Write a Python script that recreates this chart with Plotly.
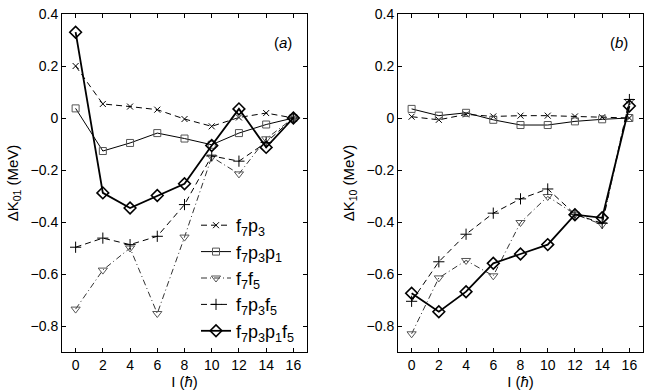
import plotly.graph_objects as go

I = [0, 2, 4, 6, 8, 10, 12, 14, 16]

# Panel (a): Delta K_01
a_f7p3 = [0.20, 0.054, 0.044, 0.032, -0.004, -0.032, 0.002, 0.019, 0.0]
a_f7p3p1 = [0.037, -0.127, -0.096, -0.058, -0.079, -0.103, -0.058, -0.025, 0.0]
a_f7f5 = [-0.735, -0.585, -0.50, -0.752, -0.458, -0.15, -0.215, -0.08, 0.0]
a_f7p3f5 = [-0.497, -0.462, -0.487, -0.455, -0.333, -0.146, -0.166, -0.094, 0.0]
a_f7p3p1f5 = [0.33, -0.288, -0.346, -0.298, -0.253, -0.106, 0.035, -0.113, 0.0]

# Panel (b): Delta K_10
b_f7p3 = [0.005, -0.007, 0.014, 0.006, 0.009, 0.009, 0.006, 0.003, 0.0]
b_f7p3p1 = [0.035, 0.009, 0.02, -0.007, -0.027, -0.027, -0.013, -0.005, 0.0]
b_f7f5 = [-0.83, -0.615, -0.548, -0.607, -0.402, -0.302, -0.37, -0.41, 0.064]
b_f7p3f5 = [-0.705, -0.553, -0.447, -0.366, -0.311, -0.273, -0.37, -0.405, 0.071]
b_f7p3p1f5 = [-0.674, -0.745, -0.668, -0.559, -0.523, -0.487, -0.372, -0.384, 0.046]

names = ["f<sub>7</sub>p<sub>3</sub>",
         "f<sub>7</sub>p<sub>3</sub>p<sub>1</sub>",
         "f<sub>7</sub>f<sub>5</sub>",
         "f<sub>7</sub>p<sub>3</sub>f<sub>5</sub>",
         "f<sub>7</sub>p<sub>3</sub>p<sub>1</sub>f<sub>5</sub>"]

styles = [
    dict(line=dict(color="black", width=1, dash="6px,4px"),
         marker=dict(symbol="x-thin-open", size=6, line=dict(color="#333", width=1))),
    dict(line=dict(color="black", width=1, dash="solid"),
         marker=dict(symbol="square-open", size=7, color="#555", line=dict(color="#555", width=1))),
    dict(line=dict(color="#333", width=1, dash="6px,3px,1px,3px"),
         marker=dict(symbol="triangle-down-open", size=8, color="#555", line=dict(color="#555", width=1))),
    dict(line=dict(color="black", width=1, dash="6px,4px"),
         marker=dict(symbol="cross-thin-open", size=8, line=dict(color="#222", width=1))),
    dict(line=dict(color="black", width=1.8, dash="solid"),
         marker=dict(symbol="diamond-open", size=9, color="black", line=dict(color="black", width=1.6))),
]

fig = go.Figure()
for k, ys in enumerate([a_f7p3, a_f7p3p1, a_f7f5, a_f7p3f5, a_f7p3p1f5]):
    fig.add_trace(go.Scatter(x=I, y=ys, mode="lines+markers", name=names[k],
                             xaxis="x", yaxis="y", showlegend=True, **styles[k]))
for k, ys in enumerate([b_f7p3, b_f7p3p1, b_f7f5, b_f7p3f5, b_f7p3p1f5]):
    fig.add_trace(go.Scatter(x=I, y=ys, mode="lines+markers", name=names[k],
                             xaxis="x2", yaxis="y2", showlegend=False, **styles[k]))

W, H = 649, 392
L, R, T, B = 62, 6, 14, 40
PW = W - L - R
PH = H - T - B
ax_common = dict(showline=True, linecolor="black", linewidth=1, mirror="ticks",
                 ticks="inside", ticklen=4, tickcolor="black", showgrid=False,
                 zeroline=False, automargin=False, tickfont=dict(size=14, color="black"))
yt = [-0.8, -0.6, -0.4, -0.2, 0, 0.2, 0.4]
ytt = ["\u22120.8", "\u22120.6", "\u22120.4", "\u22120.2", "0", "0.2", "0.4"]

fig.update_layout(
    width=W, height=H,
    margin=dict(l=L, r=R, t=T, b=B),
    plot_bgcolor="white", paper_bgcolor="white",
    font=dict(family="Liberation Sans, Arial, sans-serif", color="black", size=14),
    xaxis=dict(domain=[0, (307 - L) / PW], range=[-1, 17], tickvals=list(range(0, 17, 2)),
               title=dict(text="I (<i>ħ</i>)", font=dict(size=15), standoff=0), **ax_common),
    yaxis=dict(domain=[0, 1], range=[-0.9, 0.4], tickvals=yt, ticktext=ytt,
               title=dict(text="ΔK<sub>01</sub> (MeV)", font=dict(size=15), standoff=8),
               anchor="x", **ax_common),
    xaxis2=dict(domain=[(398 - L) / PW, 1], range=[-1, 17], tickvals=list(range(0, 17, 2)),
                title=dict(text="I (<i>ħ</i>)", font=dict(size=15), standoff=0),
                anchor="y2", **ax_common),
    yaxis2=dict(domain=[0, 1], range=[-0.9, 0.4], tickvals=yt, ticktext=ytt,
                title=dict(text="ΔK<sub>10</sub> (MeV)", font=dict(size=15), standoff=8),
                anchor="x2", **ax_common),
    legend=dict(x=(196 - L) / PW, y=1 - (207 - T) / PH, xanchor="left", yanchor="top",
                bgcolor="rgba(0,0,0,0)", font=dict(size=18, color="black"),
                tracegroupgap=0, itemwidth=30),
    annotations=[
        dict(text="(<i>a</i>)", x=15.2, y=0.29, xref="x", yref="y", showarrow=False,
             font=dict(size=15)),
        dict(text="(<i>b</i>)", x=15.2, y=0.29, xref="x2", yref="y2", showarrow=False,
             font=dict(size=15)),
    ],
)

fig.write_html("out.html", config={"displayModeBar": False},
               post_script="document.body.style.margin='0';")
